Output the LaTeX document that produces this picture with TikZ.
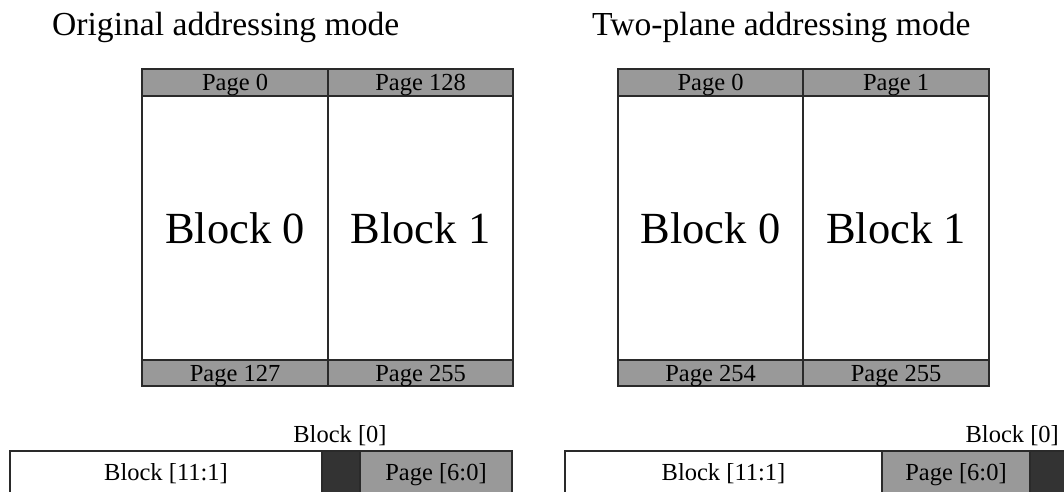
\documentclass[tikz,border=0pt]{standalone}
\usepackage{fontspec}
\setmainfont{Liberation Serif}
\definecolor{hdrgray}{HTML}{999999}
\definecolor{darkfill}{HTML}{333333}
\definecolor{edge}{HTML}{2A2A2A}
\begin{document}
\begin{tikzpicture}[x=1pt,y=-1pt,
  cellbase/.style={draw=edge,line width=1.3pt,inner sep=0pt,outer sep=0pt,rectangle},
  hdr/.style={cellbase,fill=hdrgray,font=\fontsize{24.5}{26}\selectfont,text height=20pt,text depth=5pt},
  hdrlow/.style={cellbase,fill=hdrgray,font=\fontsize{24.5}{26}\selectfont,text height=21pt,text depth=4pt},
  body/.style={cellbase,fill=white,font=\fontsize{44.5}{46}\selectfont},
  barwhite/.style={cellbase,fill=white},
  bargray/.style={cellbase,fill=hdrgray},
  bardark/.style={cellbase,fill=darkfill},
  title/.style={font=\fontsize{33.6}{35}\selectfont,inner sep=0pt,anchor=base west},
  lbl/.style={font=\fontsize{24.5}{26}\selectfont,inner sep=0pt}
]
\useasboundingbox (0,0) rectangle (1064,491);
\clip (0,0) rectangle (1064,491);
% titles
\node[title] (t1) at (52,35) {Original addressing mode};
\node[title] (t2) at (592,35) {Two-plane addressing mode};
% left diagram
\node[body,minimum width=186pt,minimum height=264pt] (lb0) at (235,228) {Block 0};
\node[body,minimum width=185pt,minimum height=264pt] (lb1) at (420.5,228) {Block 1};
\node[hdr,minimum width=186pt,minimum height=27pt] (lp0) at (235,82.5) {Page 0};
\node[hdr,minimum width=185pt,minimum height=27pt] (lp128) at (420.5,82.5) {Page 128};
\node[hdrlow,minimum width=186pt,minimum height=26pt] (lp127) at (235,373) {Page 127};
\node[hdrlow,minimum width=185pt,minimum height=26pt] (lp255) at (420.5,373) {Page 255};
% right diagram
\node[body,minimum width=185pt,minimum height=264pt] (rb0) at (710.5,228) {Block 0};
\node[body,minimum width=186pt,minimum height=264pt] (rb1) at (896,228) {Block 1};
\node[hdr,minimum width=185pt,minimum height=27pt] (rp0) at (710.5,82.5) {Page 0};
\node[hdr,minimum width=186pt,minimum height=27pt] (rp1) at (896,82.5) {Page 1};
\node[hdrlow,minimum width=185pt,minimum height=26pt] (rp254) at (710.5,373) {Page 254};
\node[hdrlow,minimum width=186pt,minimum height=26pt] (rp255) at (896,373) {Page 255};
% left address bar
\node[barwhite,minimum width=312pt,minimum height=50pt] (lbw) at (166,476) {};
\node[bardark,minimum width=38pt,minimum height=50pt] (lbd) at (341,476) {};
\node[bargray,minimum width=152pt,minimum height=50pt] (lbg) at (436,476) {};
\node[lbl,anchor=base] (lbwt) at (166,480) {Block [11:1]};
\node[lbl,anchor=base] (lbgt) at (436,480) {Page [6:0]};
\node[lbl,anchor=base] (lb0t) at (340,442) {Block [0]};
% right address bar
\node[barwhite,minimum width=317pt,minimum height=50pt] (rbw) at (723.5,476) {};
\node[bargray,minimum width=148pt,minimum height=50pt] (rbg) at (956,476) {};
\node[bardark,minimum width=40pt,minimum height=50pt] (rbd) at (1050,476) {};
\node[lbl,anchor=base] (rbwt) at (723.5,480) {Block [11:1]};
\node[lbl,anchor=base] (rbgt) at (956,480) {Page [6:0]};
\node[lbl,anchor=base east] (rb0t) at (1059,442) {Block [0]};
\end{tikzpicture}
\end{document}
